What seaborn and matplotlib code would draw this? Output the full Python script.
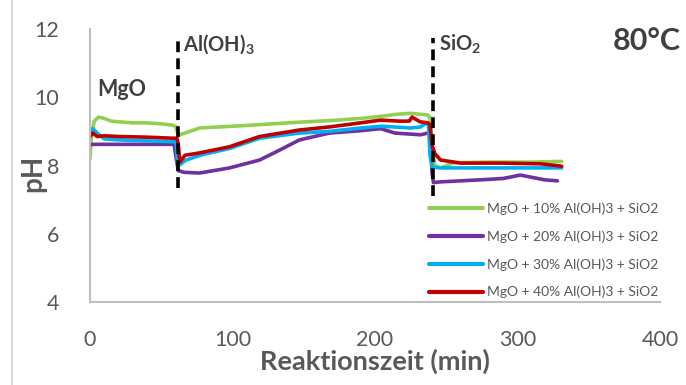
import numpy as np
import pandas as pd
import matplotlib
matplotlib.use("Agg")
import matplotlib.pyplot as plt
import seaborn as sns

# ---- data ----
labels = ["MgO + 10% Al(OH)3 + SiO2", "MgO + 20% Al(OH)3 + SiO2",
          "MgO + 30% Al(OH)3 + SiO2", "MgO + 40% Al(OH)3 + SiO2"]
colors = ["#92D050", "#7030A0", "#00B0F0", "#C00000"]

t10 = [0, 1, 3, 6, 10, 15, 20, 30, 40, 50, 58, 60, 61.5, 63, 70, 77, 100, 120, 147, 170, 190, 204, 215, 225, 232, 237, 238.6, 240, 242, 246, 255, 280, 310, 331]
ph10 = [8.2, 8.9, 9.3, 9.42, 9.38, 9.3, 9.28, 9.25, 9.25, 9.22, 9.18, 9.15, 8.95, 8.9, 9.0, 9.1, 9.15, 9.2, 9.27, 9.32, 9.38, 9.44, 9.5, 9.53, 9.5, 9.48, 9.4, 8.6, 8.0, 7.93, 8.08, 8.1, 8.1, 8.12]

t20 = [0, 2, 10, 30, 50, 59, 60.5, 62, 66, 77, 98, 119, 133, 147, 168, 190, 204, 214, 225, 232, 237, 239, 240, 241, 246, 260, 274, 290, 302, 319, 328]
ph20 = [8.6, 8.62, 8.62, 8.62, 8.62, 8.62, 8.2, 7.85, 7.8, 7.78, 7.93, 8.16, 8.45, 8.75, 8.95, 9.02, 9.08, 8.95, 8.92, 8.9, 8.95, 8.9, 7.8, 7.5, 7.52, 7.55, 7.58, 7.62, 7.72, 7.58, 7.55]

t30 = [0, 2, 5, 10, 20, 40, 58, 60.5, 61.5, 63, 67, 77, 98, 119, 147, 168, 190, 204, 217, 225, 232, 235, 237.5, 238.6, 240, 245, 270, 300, 331]
ph30 = [8.95, 9.08, 8.95, 8.78, 8.75, 8.72, 8.7, 8.7, 8.0, 8.02, 8.15, 8.3, 8.5, 8.8, 8.95, 9.0, 9.1, 9.15, 9.12, 9.1, 9.13, 9.22, 9.22, 8.3, 7.96, 7.93, 7.93, 7.93, 7.93]

t40 = [0, 2, 5, 10, 20, 40, 58, 61, 62, 63, 66.7, 77, 98, 119, 147, 168, 190, 204, 217, 224, 226, 231.6, 237, 238.6, 240, 242, 246, 260, 288, 316, 331]
ph40 = [8.85, 8.95, 8.85, 8.87, 8.85, 8.83, 8.8, 8.8, 8.6, 8.1, 8.3, 8.37, 8.55, 8.85, 9.04, 9.13, 9.25, 9.33, 9.3, 9.3, 9.42, 9.28, 9.25, 9.2, 8.6, 8.35, 8.16, 8.07, 8.07, 8.05, 7.98]

xticks = [0, 100, 200, 300, 400]
yticks = [4, 6, 8, 10, 12]
add_times = [61.5, 240.5]

frames = []
for lab, t, p in zip(labels, [t10, t20, t30, t40], [ph10, ph20, ph30, ph40]):
    frames.append(pd.DataFrame({"t": t, "pH": p, "series": lab}))
df = pd.concat(frames, ignore_index=True)

# ---- plot ----
sns.set_theme(style="white")
plt.rcParams["font.family"] = ["Lato", "DejaVu Sans"]

fig = plt.figure(figsize=(6.86, 3.85), dpi=100)
ax = fig.add_axes([90/686, 83/385, 570/686, 273/385])

sns.lineplot(data=df, x="t", y="pH", hue="series", hue_order=labels,
             palette=colors, linewidth=2.6, ax=ax, sort=False,
             estimator=None)

grey = "#595959"
dark = "#404040"
spine_c = "#BFBFBF"
ax.set_xlim(0, 400)
ax.set_ylim(4, 12)
ax.set_xticks(xticks)
ax.set_yticks(yticks)
ax.tick_params(axis="both", direction="in", length=6, width=1.3,
               color=spine_c, labelcolor=grey, labelsize=15.5)
ax.tick_params(axis="y", pad=22)
ax.tick_params(axis="x", pad=20)
for s in ["top", "right"]:
    ax.spines[s].set_visible(False)
for s in ["left", "bottom"]:
    ax.spines[s].set_color(spine_c)
    ax.spines[s].set_linewidth(1.5)

ax.set_xlabel("Reaktionszeit (min)", fontsize=19.5, fontweight="bold",
              color=grey, labelpad=-1)
ax.set_ylabel("pH", fontsize=20, fontweight="bold", color=grey)
ax.yaxis.set_label_coords(-0.076, 0.47)

# vertical dashed addition markers
ax.vlines(add_times[0], 7.35, 11.8, colors="black", linestyles=(0, (3, 1.7)),
          linewidth=2.6)
ax.vlines(add_times[1], 7.1, 11.75, colors="black", linestyles=(0, (3, 1.7)),
          linewidth=2.6)

ax.text(5, 10.22, "MgO", fontsize=15.5, fontweight="bold", color=dark,
        va="center", ha="left")
ax.text(65, 11.55, r"Al(OH)$_\mathregular{3}$", fontsize=14.5, fontweight="bold",
        color=dark, va="center", ha="left")
ax.text(245, 11.55, r"SiO$_\mathregular{2}$", fontsize=14.5, fontweight="bold",
        color=dark, va="center", ha="left")
ax.text(367, 11.65, "80°C", fontsize=22, fontweight="bold", color=dark,
        va="center", ha="left", clip_on=False)

leg = ax.legend(loc="upper left", bbox_to_anchor=(0.594, 0.365),
                frameon=False, fontsize=10, handlelength=3.9,
                handletextpad=0.3, labelspacing=1.1, borderpad=0,
                borderaxespad=0)
for txt in leg.get_texts():
    txt.set_color(grey)
for ln in leg.get_lines():
    ln.set_linewidth(3)

# light chart border on the left
fig.add_artist(plt.Line2D([12/686, 12/686], [0, 1], color="#D9D9D9",
                          linewidth=1.5, transform=fig.transFigure))

fig.savefig("out.png", dpi=100)
